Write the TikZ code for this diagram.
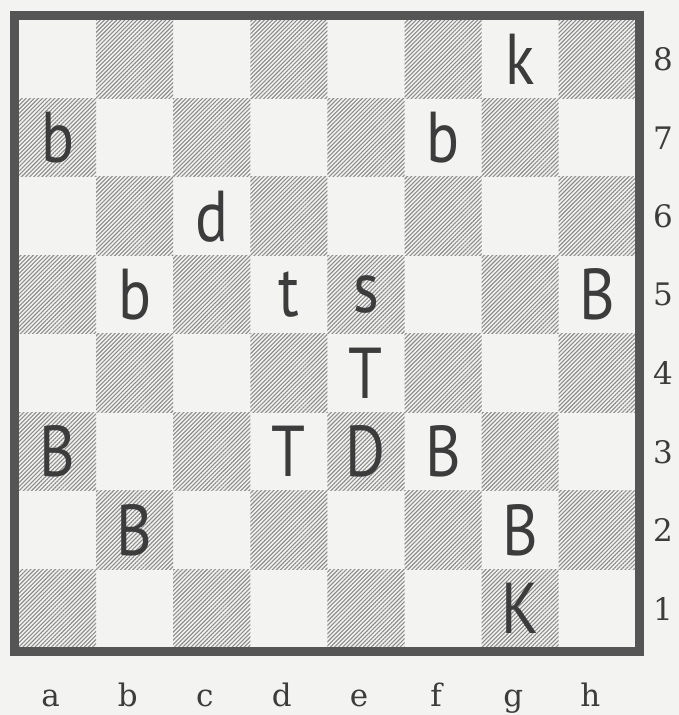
\documentclass[tikz,border=0pt]{standalone}
\usepackage{fontspec}
\usepackage{graphicx}
\usetikzlibrary{patterns.meta}
\newfontfamily\piecefont{PT Sans}
\newfontfamily\labelfont{DejaVu Serif}
\definecolor{paper}{RGB}{243,243,241}
\definecolor{hatch}{RGB}{140,140,140}
\definecolor{ink}{RGB}{60,60,60}
\definecolor{rim}{RGB}{85,85,85}

\begin{document}
\begin{tikzpicture}[x=77.1pt, y=78.5pt,
  dark/.style={pattern={Lines[angle=45,distance=2.9pt,line width=1.1pt]}, pattern color=hatch},
  piece/.style={inner sep=0pt, text=ink, font=\piecefont\fontsize{72}{72}\selectfont},
  coord/.style={inner sep=0pt, text=ink, font=\labelfont\fontsize{31}{31}\selectfont}]
\fill[paper] (-19pt,-67pt) rectangle (660pt,648pt);
\useasboundingbox (-19pt,-67pt) rectangle (660pt,648pt);
% hatched squares
\foreach \i in {0,...,7}
  \foreach \j in {0,...,7} {
    \pgfmathtruncatemacro\parity{mod(\i+\j,2)}
    \ifnum\parity=0 \fill[dark] (\i,\j) rectangle +(1,1); \fi
  }
% frame
\draw[rim, line width=9pt] (-4pt,-4pt) rectangle (620.8pt,632pt);
% pieces
\foreach \sq/\f/\r/\p in {g8/6/7/k, a7/0/6/b, f7/5/6/b, c6/2/5/d, b5/1/4/b, d5/3/4/t,
    e5/4/4/s, h5/7/4/B, e4/4/3/T, a3/0/2/B, d3/3/2/T, e3/4/2/D, f3/5/2/B,
    b2/1/1/B, g2/6/1/B, g1/6/0/K}
  \node[piece] (\sq) at (\f+.5,\r+.5) {\scalebox{0.85}[1]{\p}};
% ranks and files
\foreach \r in {1,...,8}
  \node[coord] (rank\r) at (8.353,\r-.5) {\r};
\foreach \i/\f in {1/a,2/b,3/c,4/d,5/e,6/f,7/g,8/h}
  \node[coord, anchor=base] (file\f) at (\i-.59,-.75) {\f};
\end{tikzpicture}
\end{document}
